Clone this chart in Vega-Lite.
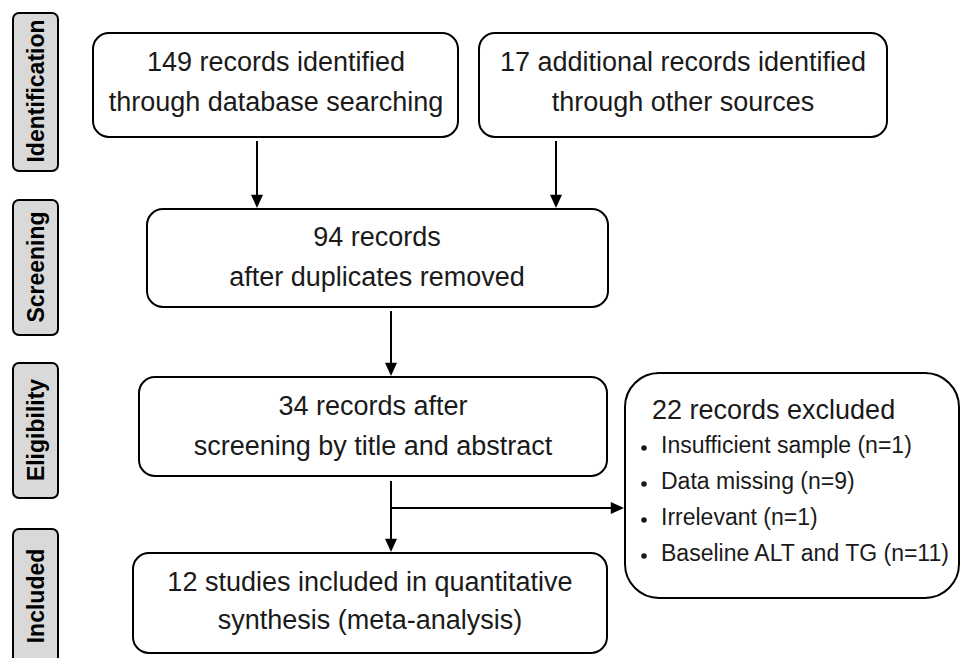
{
  "$schema": "https://vega.github.io/schema/vega-lite/v6.json",
  "width": 961,
  "height": 658,
  "autosize": {"type": "fit", "contains": "padding"},
  "padding": 0,
  "background": "white",
  "config": {"view": {"stroke": null}},
  "datasets": {
    "stages": [
      {"label": "Identification", "x1": 13, "x2": 58, "y1": 13, "y2": 171, "xc": 37, "yc": 91},
      {"label": "Screening", "x1": 13, "x2": 58, "y1": 200, "y2": 335, "xc": 37, "yc": 267},
      {"label": "Eligibility", "x1": 13, "x2": 58, "y1": 363, "y2": 498, "xc": 37, "yc": 430},
      {"label": "Included", "x1": 13, "x2": 58, "y1": 529, "y2": 675, "xc": 37, "yc": 596}
    ],
    "boxes": [
      {"id": "db", "x1": 93, "x2": 458, "y1": 33, "y2": 137},
      {"id": "other", "x1": 479, "x2": 887, "y1": 33, "y2": 137},
      {"id": "dedup", "x1": 147, "x2": 608, "y1": 209, "y2": 307},
      {"id": "screen", "x1": 139, "x2": 607, "y1": 377, "y2": 476},
      {"id": "incl", "x1": 133, "x2": 607, "y1": 553, "y2": 653}
    ],
    "excl": [
      {"id": "excluded", "x1": 625, "x2": 959, "y1": 373, "y2": 598}
    ],
    "lines": [
      {"x1": 257, "y1": 141, "x2": 257, "y2": 199},
      {"x1": 556, "y1": 141, "x2": 556, "y2": 199},
      {"x1": 391, "y1": 311, "x2": 391, "y2": 367},
      {"x1": 391, "y1": 481, "x2": 391, "y2": 543},
      {"x1": 391, "y1": 508, "x2": 615, "y2": 508}
    ],
    "heads": [
      {"x": 257, "y": 208, "dir": "down"},
      {"x": 556, "y": 208, "dir": "down"},
      {"x": 391, "y": 376, "dir": "down"},
      {"x": 391, "y": 552, "dir": "down"},
      {"x": 624, "y": 508, "dir": "right"}
    ],
    "texts": [
      {"role": "main", "text": "149 records identified", "x": 276, "y": 63},
      {"role": "main", "text": "through database searching", "x": 276, "y": 103},
      {"role": "main", "text": "17 additional records identified", "x": 683, "y": 63},
      {"role": "main", "text": "through other sources", "x": 683, "y": 103},
      {"role": "main", "text": "94 records", "x": 377, "y": 238},
      {"role": "main", "text": "after duplicates removed", "x": 377, "y": 278},
      {"role": "main", "text": "34 records after", "x": 373, "y": 407},
      {"role": "main", "text": "screening by title and abstract", "x": 373, "y": 447},
      {"role": "main", "text": "12 studies included in quantitative", "x": 370, "y": 583},
      {"role": "main", "text": "synthesis (meta-analysis)", "x": 370, "y": 621},
      {"role": "title", "text": "22 records excluded", "x": 652, "y": 411},
      {"role": "item", "text": "Insufficient sample (n=1)", "x": 661, "y": 446},
      {"role": "item", "text": "Data missing (n=9)", "x": 661, "y": 482},
      {"role": "item", "text": "Irrelevant (n=1)", "x": 661, "y": 518},
      {"role": "item", "text": "Baseline ALT and TG (n=11)", "x": 661, "y": 554}
    ],
    "bullets": [
      {"x": 644, "y": 448},
      {"x": 644, "y": 484},
      {"x": 644, "y": 520},
      {"x": 644, "y": 556}
    ]
  },
  "layer": [
    {
      "data": {"name": "stages"},
      "mark": {"type": "rect", "cornerRadius": 6, "fill": "#d9d9d9", "stroke": "#000000", "strokeWidth": 2, "clip": true},
      "encoding": {
        "x": {"field": "x1", "type": "quantitative", "scale": {"domain": [0, 961], "nice": false, "zero": false}, "axis": null},
        "x2": {"field": "x2"},
        "y": {"field": "y1", "type": "quantitative", "scale": {"domain": [0, 658], "nice": false, "zero": false, "reverse": true}, "axis": null},
        "y2": {"field": "y2"}
      }
    },
    {
      "data": {"name": "stages"},
      "mark": {"type": "text", "angle": 270, "align": "center", "baseline": "middle", "font": "Liberation Sans", "fontWeight": "bold", "fontSize": 23, "color": "#000000"},
      "encoding": {
        "x": {"field": "xc", "type": "quantitative"},
        "y": {"field": "yc", "type": "quantitative"},
        "text": {"field": "label"}
      }
    },
    {
      "data": {"name": "boxes"},
      "mark": {"type": "rect", "cornerRadius": 16, "fill": "white", "stroke": "#000000", "strokeWidth": 2},
      "encoding": {
        "x": {"field": "x1", "type": "quantitative"},
        "x2": {"field": "x2"},
        "y": {"field": "y1", "type": "quantitative"},
        "y2": {"field": "y2"}
      }
    },
    {
      "data": {"name": "excl"},
      "mark": {"type": "rect", "cornerRadius": 34, "fill": "white", "stroke": "#000000", "strokeWidth": 2},
      "encoding": {
        "x": {"field": "x1", "type": "quantitative"},
        "x2": {"field": "x2"},
        "y": {"field": "y1", "type": "quantitative"},
        "y2": {"field": "y2"}
      }
    },
    {
      "data": {"name": "lines"},
      "mark": {"type": "rule", "color": "#000000", "strokeWidth": 2},
      "encoding": {
        "x": {"field": "x1", "type": "quantitative"},
        "x2": {"field": "x2"},
        "y": {"field": "y1", "type": "quantitative"},
        "y2": {"field": "y2"}
      }
    },
    {
      "data": {"name": "heads"},
      "mark": {"type": "point", "filled": true, "color": "#000000", "opacity": 1, "size": 144, "strokeWidth": 0},
      "encoding": {
        "x": {"field": "x", "type": "quantitative"},
        "y": {"field": "y", "type": "quantitative"},
        "shape": {"field": "dir", "type": "nominal", "scale": {"domain": ["down", "right"], "range": ["M-1,-2.2L1,-2.2L0,0Z", "M-2.2,-1L-2.2,1L0,0Z"]}, "legend": null}
      }
    },
    {
      "data": {"name": "texts"},
      "transform": [{"filter": "datum.role === 'main'"}],
      "mark": {"type": "text", "align": "center", "baseline": "middle", "font": "Liberation Sans", "fontSize": 27, "color": "#1a1a1a"},
      "encoding": {
        "x": {"field": "x", "type": "quantitative"},
        "y": {"field": "y", "type": "quantitative"},
        "text": {"field": "text"}
      }
    },
    {
      "data": {"name": "texts"},
      "transform": [{"filter": "datum.role === 'title'"}],
      "mark": {"type": "text", "align": "left", "baseline": "middle", "font": "Liberation Sans", "fontSize": 27, "color": "#1a1a1a"},
      "encoding": {
        "x": {"field": "x", "type": "quantitative"},
        "y": {"field": "y", "type": "quantitative"},
        "text": {"field": "text"}
      }
    },
    {
      "data": {"name": "texts"},
      "transform": [{"filter": "datum.role === 'item'"}],
      "mark": {"type": "text", "align": "left", "baseline": "middle", "font": "Liberation Sans", "fontSize": 23, "color": "#1a1a1a"},
      "encoding": {
        "x": {"field": "x", "type": "quantitative"},
        "y": {"field": "y", "type": "quantitative"},
        "text": {"field": "text"}
      }
    },
    {
      "data": {"name": "bullets"},
      "mark": {"type": "point", "shape": "circle", "filled": true, "color": "#1a1a1a", "opacity": 1, "size": 30, "strokeWidth": 0},
      "encoding": {
        "x": {"field": "x", "type": "quantitative"},
        "y": {"field": "y", "type": "quantitative"}
      }
    }
  ]
}
